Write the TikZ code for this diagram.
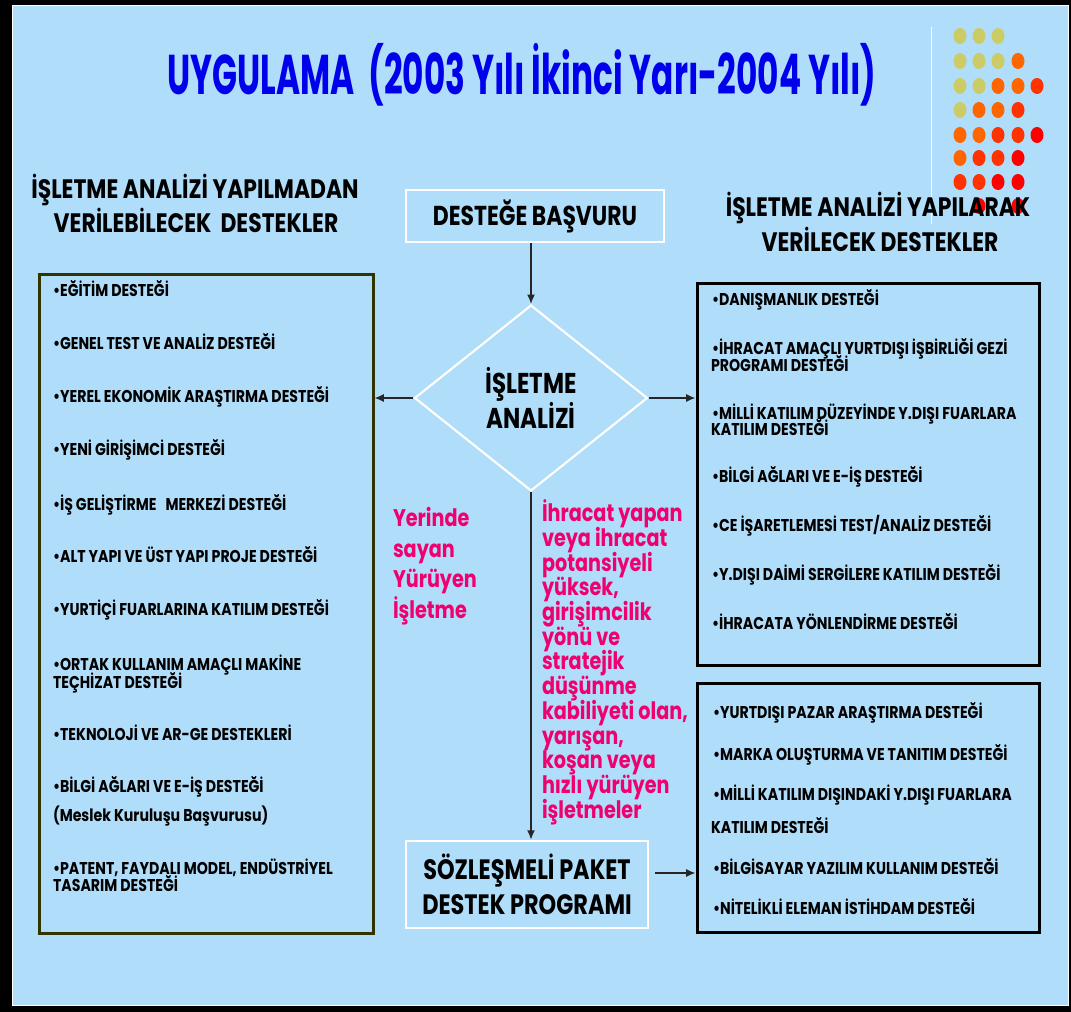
\documentclass[tikz,border=0pt]{standalone}
\usepackage{fontspec}
\setmainfont{Poppins}[FakeStretch=0.83]
\newfontfamily\nfont{Poppins}[FakeStretch=0.8]
\newfontfamily\hfont{Poppins}[FakeStretch=0.82]
\newfontfamily\titlefont{Poppins}[FakeStretch=0.585]
\usetikzlibrary{shapes.geometric,arrows.meta}
\definecolor{bgblue}{RGB}{176,221,250}
\definecolor{tblue}{RGB}{0,0,235}
\definecolor{hpink}{RGB}{240,0,110}
\definecolor{boxolive}{RGB}{51,51,0}
\definecolor{dotA}{RGB}{204,204,102}
\definecolor{dotB}{RGB}{255,102,0}
\definecolor{dotC}{RGB}{255,51,0}
\definecolor{dotD}{RGB}{255,0,0}
\begin{document}
\begin{tikzpicture}[x=0.75pt,y=-0.75pt,
  txt/.style={inner sep=0pt, outer sep=0pt},
  item/.style={txt, anchor=base west, font=\bfseries\fontsize{12.8}{14}\selectfont},
  head/.style={txt, anchor=base, font=\hfont\bfseries\fontsize{20}{24}\selectfont},
  pink/.style={txt, anchor=base west, text=hpink, font=\nfont\bfseries\fontsize{18}{22}\selectfont},
  wbox/.style={draw=white, line width=2pt, inner sep=0pt, align=center},
  blkbox/.style={draw=black, line width=2.25pt, inner sep=0pt},
  conn/.style={line width=1.1pt, draw=black!85, -{Latex[length=7pt,width=6pt]}}
]
\useasboundingbox (0,0) rectangle (1071,1012);
\fill[black] (0,0) rectangle (1071,1012);
\draw[white, line width=0.75pt, fill=bgblue] (12,6) rectangle (1068,1005);

% decorative dots
\draw[white, line width=0.75pt] (931,27) -- (931,224);
\foreach \x/\y/\cc in {960/36/dotA,979/36/dotA,998/36/dotA,
  960/61/dotA,979/61/dotA,998/61/dotA,1018/61/dotB,
  960/86/dotA,979/86/dotA,998/86/dotB,1018/86/dotB,1037/86/dotC,
  960/110/dotA,979/110/dotB,998/110/dotB,1018/110/dotC,
  960/135/dotB,979/135/dotB,998/135/dotC,1018/135/dotC,1037/135/dotD,
  960/158/dotB,979/158/dotC,998/158/dotC,1018/158/dotD,
  960/182/dotC,979/182/dotC,998/182/dotD,1018/182/dotD,
  979/206/dotD,1018/206/dotD}
  \fill[\cc] (\x,\y) ellipse [x radius=6.5, y radius=8];

% title
\node[txt, anchor=base, text=tblue, font=\titlefont\bfseries\fontsize{42}{46}\selectfont] (title) at (522,95) {UYGULAMA\ \ (2003 Yılı İkinci Yarı-2004 Yılı)};

% headings
\node[head] (hl1) at (195,199) {İŞLETME ANALİZİ YAPILMADAN};
\node[head] (hl2) at (196,233) {VERİLEBİLECEK\ \ DESTEKLER};
\node[head] (hr1) at (878,216.5) {İŞLETME ANALİZİ YAPILARAK};
\node[head] (hr2) at (880,251.5) {VERİLECEK DESTEKLER};

% boxes
\node[draw=boxolive, line width=2.25pt, inner sep=0pt, minimum width=250.5pt, minimum height=493.5pt] (lbox) at (206,604) {};
\node[blkbox, minimum width=256.5pt, minimum height=285.75pt] (rtbox) at (868,474.5) {};
\node[blkbox, minimum width=256.5pt, minimum height=186.75pt] (rbbox) at (868,807.5) {};
\node[wbox, minimum width=193.5pt, minimum height=39pt, font=\nfont\bfseries\fontsize{20.5}{24}\selectfont] (app) at (535,216) {DESTEĞE BAŞVURU};
\node[draw=white, line width=1.6pt, shape=diamond, minimum width=174.75pt, minimum height=139.5pt, inner sep=0pt, align=center, font=\nfont\bfseries\fontsize{21.5}{26.25}\selectfont] (dia) at (531,398) {İŞLETME\\ANALİZİ};
\node[wbox, minimum width=181.5pt, minimum height=65.25pt, font=\nfont\bfseries\fontsize{21}{26.25}\selectfont] (soz) at (527,884.5) {SÖZLEŞMELİ PAKET\\DESTEK PROGRAMI};

% connectors
\draw[conn] (dia.north |- app.south) -- (dia.north);
\draw[conn] (dia.west) -- (dia.west -| lbox.east);
\draw[conn] (dia.east) -- (dia.east -| rtbox.west);
\draw[conn] (dia.south) -- (dia.south |- soz.north);
\coordinate (sozout) at (655,873);
\draw[conn] (sozout) -- (sozout -| rbbox.west);

% left items
\node[item] (l1) at (53,296.5) {•EĞİTİM DESTEĞİ};
\node[item] (l2) at (53,349.5) {•GENEL TEST VE ANALİZ DESTEĞİ};
\node[item] (l3) at (53,402.5) {•YEREL EKONOMİK ARAŞTIRMA DESTEĞİ};
\node[item] (l4) at (53,455.5) {•YENİ GİRİŞİMCİ DESTEĞİ};
\node[item] (l5) at (53,510) {•İŞ GELİŞTİRME\ \ \ MERKEZİ DESTEĞİ};
\node[item] (l6) at (53,562.5) {•ALT YAPI VE ÜST YAPI PROJE DESTEĞİ};
\node[item] (l7) at (53,615.5) {•YURTİÇİ FUARLARINA KATILIM DESTEĞİ};
\node[item] (l8a) at (53,670.7) {•ORTAK KULLANIM AMAÇLI MAKİNE};
\node[item] (l8b) at (53,688) {TEÇHİZAT DESTEĞİ};
\node[item] (l9) at (53,740.5) {•TEKNOLOJİ VE AR-GE DESTEKLERİ};
\node[item] (l10) at (53,792.5) {•BİLGİ AĞLARI VE E-İŞ DESTEĞİ};
\node[item] (l11) at (53,821.5) {(Meslek Kuruluşu Başvurusu)};
\node[item] (l12a) at (53,874) {•PATENT, FAYDALI MODEL, ENDÜSTRİYEL};
\node[item] (l12b) at (53,891.5) {TASARIM DESTEĞİ};

% right top items
\node[item] (r1) at (712,306) {•DANIŞMANLIK DESTEĞİ};
\node[item] (r2a) at (712,355) {•İHRACAT AMAÇLI YURTDIŞI İŞBİRLİĞİ GEZİ};
\node[item] (r2b) at (711,371.5) {PROGRAMI DESTEĞİ};
\node[item] (r3a) at (712,419.3) {•MİLLİ KATILIM DÜZEYİNDE Y.DIŞI FUARLARA};
\node[item] (r3b) at (711,435.5) {KATILIM DESTEĞİ};
\node[item] (r4) at (712,482.7) {•BİLGİ AĞLARI VE E-İŞ DESTEĞİ};
\node[item] (r5) at (712,531.7) {•CE İŞARETLEMESİ TEST/ANALİZ DESTEĞİ};
\node[item] (r6) at (712,580.7) {•Y.DIŞI DAİMİ SERGİLERE KATILIM DESTEĞİ};
\node[item] (r7) at (712,629.3) {•İHRACATA YÖNLENDİRME DESTEĞİ};

% right bottom items
\node[item] (s1) at (713,718.3) {•YURTDIŞI PAZAR ARAŞTIRMA DESTEĞİ};
\node[item] (s2) at (713,760) {•MARKA OLUŞTURMA VE TANITIM DESTEĞİ};
\node[item] (s3a) at (713,800.7) {•MİLLİ KATILIM DIŞINDAKİ Y.DIŞI FUARLARA};
\node[item] (s3b) at (711,833.3) {KATILIM DESTEĞİ};
\node[item] (s4) at (713,874) {•BİLGİSAYAR YAZILIM KULLANIM DESTEĞİ};
\node[item] (s5) at (713,914.3) {•NİTELİKLİ ELEMAN İSTİHDAM DESTEĞİ};

% pink texts
\node[pink] (pl1) at (393,526.7) {Yerinde};
\node[pink] (pl2) at (393,557.1) {sayan};
\node[pink] (pl3) at (393,587.5) {Yürüyen};
\node[pink] (pl4) at (393,618) {İşletme};

\node[pink] (pr1) at (542,521.7) {İhracat yapan};
\node[pink] (pr2) at (542,546.4) {veya ihracat};
\node[pink] (pr3) at (542,571.1) {potansiyeli};
\node[pink] (pr4) at (542,595.8) {yüksek,};
\node[pink] (pr5) at (542,620.5) {girişimcilik};
\node[pink] (pr6) at (542,645.2) {yönü ve};
\node[pink] (pr7) at (542,669.9) {stratejik};
\node[pink] (pr8) at (542,694.6) {düşünme};
\node[pink] (pr9) at (542,719.3) {kabiliyeti olan,};
\node[pink] (pr10) at (542,744) {yarışan,};
\node[pink] (pr11) at (542,768.7) {koşan veya};
\node[pink] (pr12) at (542,793.4) {hızlı yürüyen};
\node[pink] (pr13) at (542,818.1) {işletmeler};
\end{tikzpicture}
\end{document}
